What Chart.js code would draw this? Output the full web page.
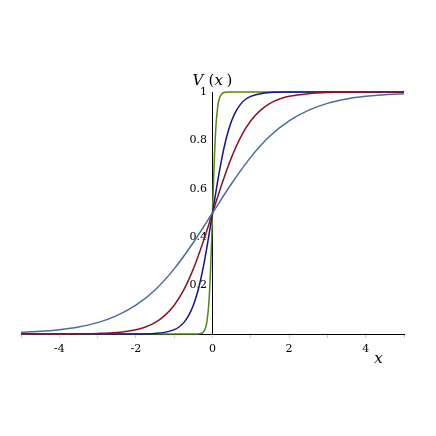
<!DOCTYPE html>
<html>
<head>
<meta charset="utf-8">
<script src="https://cdn.jsdelivr.net/npm/chart.js@4/dist/chart.umd.min.js"></script>
<style>
html,body{margin:0;padding:0;background:#fff;}
#wrap{width:436px;height:436px;}
</style>
</head>
<body>
<div id="wrap"><canvas id="plot"></canvas></div>
<script>
// values
const slowX = [-5,-4.5,-4,-3.5,-3,-2.5,-2,-1.5,-1,-0.5,0,0.5,1,1.5,2,2.5,3,3.5,4,4.5,5];
const slowV = [0.007,0.011,0.018,0.029,0.047,0.076,0.119,0.182,0.269,0.378,0.5,0.622,0.731,0.818,0.881,0.924,0.953,0.971,0.982,0.989,0.993];

const redX = [-5,-4,-3,-2.5,-2,-1.75,-1.5,-1.25,-1,-0.75,-0.5,-0.25,0,0.25,0.5,0.75,1,1.25,1.5,1.75,2,2.5,3,4,5];
const redV = [0,0.0003,0.0025,0.0067,0.018,0.029,0.047,0.076,0.119,0.182,0.269,0.378,0.5,0.622,0.731,0.818,0.881,0.924,0.953,0.971,0.982,0.993,0.998,1,1];

const navyX = [-5,-3,-2,-1.5,-1.25,-1,-0.875,-0.75,-0.625,-0.5,-0.375,-0.25,-0.125,0,0.125,0.25,0.375,0.5,0.625,0.75,0.875,1,1.25,1.5,2,3,5];
const navyV = [0,0,0.0003,0.0025,0.0067,0.018,0.029,0.047,0.076,0.119,0.182,0.269,0.378,0.5,0.622,0.731,0.818,0.881,0.924,0.953,0.971,0.982,0.993,0.998,1,1,1];

const greenX = [-5,-0.5,-0.4,-0.3,-0.25,-0.2,-0.15,-0.1,-0.075,-0.05,-0.025,0,0.025,0.05,0.075,0.1,0.15,0.2,0.25,0.3,0.4,0.5,5];
const greenV = [0,0,0.0003,0.0025,0.0067,0.018,0.047,0.119,0.182,0.269,0.378,0.5,0.622,0.731,0.818,0.881,0.953,0.982,0.993,0.998,1,1,1];

const xTicks = [-5,-4,-3,-2,-1,0,1,2,3,4,5];
const xLabels = ['','-4','','-2','','0','','2','','4',''];
const yTicks = [0.2,0.4,0.6,0.8,1];
const yLabels = ['0.2','0.4','0.6','0.8','1'];

function pts(xs, vs){
	return xs.map((x,i)=>({x:x, y:vs[i]}));
}
function curve(xs, vs, color){
	return {
		data: pts(xs, vs),
		borderColor: color,
		borderWidth: 1.5,
		pointRadius: 0,
		cubicInterpolationMode: 'monotone',
		clip: 4
	};
}

const tickFont = {family: "'DejaVu Serif', serif", size: 11};

const axisTitles = {
	id: 'axisTitles',
	afterDraw(chart){
		const {ctx, scales:{x, y}} = chart;
		ctx.save();
		ctx.fillStyle = '#000';
		ctx.textBaseline = 'alphabetic';
		// V(x) above the vertical axis
		const cx = x.getPixelForValue(0);
		const base = y.getPixelForValue(1) - 7;
		const it = "italic 15px 'DejaVu Serif', serif";
		const up = "15px 'DejaVu Serif', serif";
		ctx.font = it; ctx.fillText('V', cx - 20, base);
		ctx.font = up; ctx.fillText('(', cx - 4, base);
		ctx.font = it; ctx.fillText('x', cx + 2, base);
		ctx.font = up; ctx.fillText(')', cx + 14, base);
		// x below the right end of the horizontal axis
		ctx.font = "italic 15px 'DejaVu Serif', serif";
		ctx.fillText('x', x.getPixelForValue(4.22), y.getPixelForValue(0) + 29);
		ctx.restore();
	}
};

const ctx = document.getElementById('plot').getContext('2d');
new Chart(ctx, {
	type: 'line',
	data: {
		datasets: [
			curve(slowX, slowV, '#4a6b9c'),
			curve(redX, redV, '#8c1428'),
			curve(navyX, navyV, '#141490'),
			curve(greenX, greenV, '#4f8a0a')
		]
	},
	options: {
		responsive: true,
		maintainAspectRatio: false,
		animation: false,
		layout: {padding: {left: 21, right: 32, top: 92, bottom: 102}},
		plugins: {legend: {display: false}, tooltip: {enabled: false}},
		scales: {
			x: {
				type: 'linear',
				position: {y: 0},
				min: -5, max: 5,
				z: 1,
				afterBuildTicks: s => { s.ticks = xTicks.map(v => ({value: v})); },
				ticks: {
					font: tickFont, color: '#000', padding: 6, maxRotation: 0, autoSkip: false,
					callback: (v, i) => xLabels[i]
				},
				grid: {display: true, drawOnChartArea: false, drawTicks: true, tickLength: 3, color: '#ccc'},
				border: {display: true, color: '#000', width: 1}
			},
			y: {
				type: 'linear',
				position: {x: 0},
				min: 0, max: 1,
				z: 1,
				afterBuildTicks: s => { s.ticks = yTicks.map(v => ({value: v})); },
				ticks: {
					font: tickFont, color: '#000', autoSkip: false,
					callback: (v, i) => yLabels[i] + '\u2002'
				},
				grid: {display: false},
				border: {display: true, color: '#000', width: 1}
			}
		}
	},
	plugins: [axisTitles]
});
</script>
</body>
</html>
